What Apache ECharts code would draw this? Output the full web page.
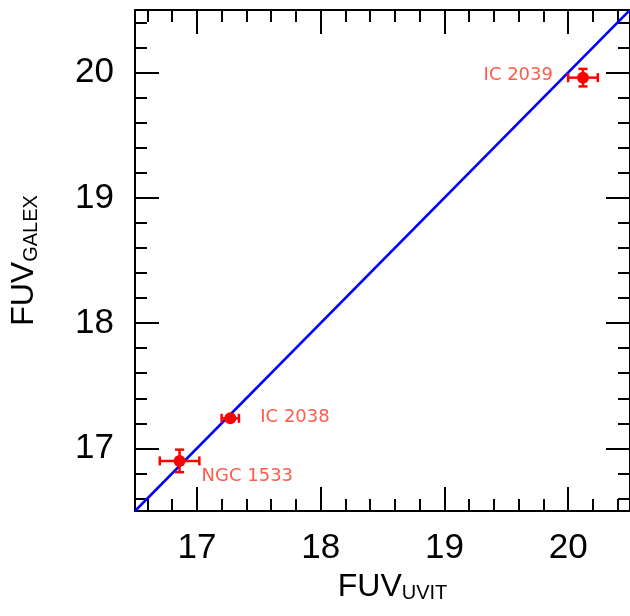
<!DOCTYPE html>
<html>
<head>
<meta charset="utf-8">
<script src="https://cdn.jsdelivr.net/npm/echarts@6/dist/echarts.min.js"></script>
<style>html,body{margin:0;padding:0;background:#fff}#c{width:630px;height:616px}</style>
</head>
<body>
<div id="c"></div>
<script>
// ---- data ----
var galaxyNames = ['NGC 1533', 'IC 2038', 'IC 2039'];
var fuvUvit = [16.86, 17.27, 20.12];
var fuvUvitErr = [0.16, 0.07, 0.12];
var fuvGalex = [16.90, 17.24, 19.96];
var fuvGalexErr = [0.09, 0.02, 0.07];
var oneToOneLine = [[16.5, 16.5], [20.5, 20.5]];
var majorTicks = [17, 18, 19, 20];
var minorTicks = [16.6, 16.8, 17.2, 17.4, 17.6, 17.8, 18.2, 18.4, 18.6, 18.8, 19.2, 19.4, 19.6, 19.8, 20.2, 20.4];
var axisMin = 16.5, axisMax = 20.5;

// ---- chart ----
var chart = echarts.init(document.getElementById('c'), null, {renderer: 'canvas'});
var FONT = 'Liberation Sans';
var RED = '#ff0000';
var LABEL_RED = '#ff5a4a';

function makeAxis(dim, pos, kind) {
  var isMajor = kind === 'major';
  var withLabels = isMajor && (pos === 'bottom' || pos === 'left');
  var ax = {
    type: 'value', min: axisMin, max: axisMax, position: pos,
    splitLine: {show: false},
    axisLine: {show: isMajor, onZero: false, lineStyle: {color: '#000', width: 2}},
    axisTick: {show: true, inside: true, length: isMajor ? 24 : 12,
      customValues: isMajor ? majorTicks : minorTicks,
      lineStyle: {color: '#000', width: 2}},
    axisLabel: {show: withLabels, customValues: majorTicks, margin: dim === 'x' ? 20 : 21,
      color: '#000', fontFamily: FONT, fontSize: 35,
      formatter: function (v) { return String(Math.round(v)); }}
  };
  if (withLabels) {
    ax.nameLocation = 'middle';
    ax.nameTextStyle = {
      fontFamily: FONT, fontSize: 32, color: '#000',
      rich: {m: {fontFamily: FONT, fontSize: 32, color: '#000'},
             s: {fontFamily: FONT, fontSize: 20, color: '#000', padding: [14, 0, 0, 0]}}
    };
    if (dim === 'x') {
      ax.name = '{m|FUV}{s|UVIT}';
      ax.nameGap = 56;
      ax.nameTextStyle.padding = [0, 0, 0, 20];
    } else {
      ax.name = '{m|FUV}{s|GALEX}';
      ax.nameGap = 94;
    }
  }
  return ax;
}

var xAxes = [makeAxis('x', 'bottom', 'major'), makeAxis('x', 'bottom', 'minor'),
             makeAxis('x', 'top', 'major'), makeAxis('x', 'top', 'minor')];
var yAxes = [makeAxis('y', 'left', 'major'), makeAxis('y', 'left', 'minor'),
             makeAxis('y', 'right', 'major'), makeAxis('y', 'right', 'minor')];

var errData = galaxyNames.map(function (n, i) {
  return [fuvUvit[i], fuvGalex[i], fuvUvitErr[i], fuvGalexErr[i]];
});

var labelPlacement = [
  {position: 'right', offset: [11, 15]},
  {position: 'right', offset: [19, -1]},
  {position: 'left', offset: [-19, -2]}
];

var scatterData = galaxyNames.map(function (n, i) {
  return {
    name: n, value: [fuvUvit[i], fuvGalex[i]],
    label: {show: true, position: labelPlacement[i].position, offset: labelPlacement[i].offset, distance: 5}
  };
});

var option = {
  animation: false,
  backgroundColor: '#fff',
  grid: {left: 133, top: 10, right: 0, bottom: 105, containLabel: false},
  xAxis: xAxes,
  yAxis: yAxes,
  series: [
    {
      type: 'line', data: oneToOneLine, xAxisIndex: 0, yAxisIndex: 0,
      showSymbol: false, symbol: 'none', clip: true,
      lineStyle: {color: '#0000ff', width: 2.5}, z: 3
    },
    {
      type: 'custom', xAxisIndex: 0, yAxisIndex: 0, data: errData,
      encode: {x: 0, y: 1}, z: 4,
      renderItem: function (params, api) {
        var x = api.value(0), y = api.value(1), ex = api.value(2), ey = api.value(3);
        var l = api.coord([x - ex, y]), r = api.coord([x + ex, y]);
        var t = api.coord([x, y + ey]), b = api.coord([x, y - ey]);
        var cap = 4.5;
        var st = {stroke: RED, lineWidth: 2.5};
        return {type: 'group', children: [
          {type: 'line', shape: {x1: l[0], y1: l[1], x2: r[0], y2: r[1]}, style: st},
          {type: 'line', shape: {x1: l[0], y1: l[1] - cap, x2: l[0], y2: l[1] + cap}, style: st},
          {type: 'line', shape: {x1: r[0], y1: r[1] - cap, x2: r[0], y2: r[1] + cap}, style: st},
          {type: 'line', shape: {x1: t[0], y1: t[1], x2: b[0], y2: b[1]}, style: st},
          {type: 'line', shape: {x1: t[0] - cap, y1: t[1], x2: t[0] + cap, y2: t[1]}, style: st},
          {type: 'line', shape: {x1: b[0] - cap, y1: b[1], x2: b[0] + cap, y2: b[1]}, style: st}
        ]};
      }
    },
    {
      type: 'scatter', xAxisIndex: 0, yAxisIndex: 0, data: scatterData,
      symbol: 'circle', symbolSize: 12, z: 5,
      itemStyle: {color: RED, opacity: 1},
      label: {show: true, formatter: '{b}', color: LABEL_RED, fontFamily: 'DejaVu Sans', fontSize: 18}
    }
  ]
};
chart.setOption(option);
</script>
</body>
</html>
